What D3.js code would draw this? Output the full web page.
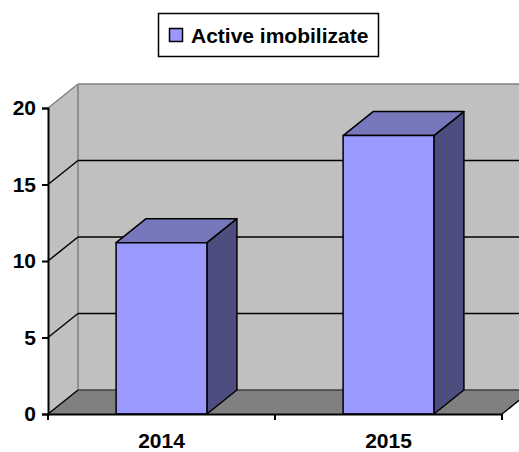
<!DOCTYPE html>
<html>
<head>
<meta charset="utf-8">
<script src="https://cdn.jsdelivr.net/npm/d3@7"></script>
<style>
  body { margin: 0; background: #fff; }
  svg { display: block; }
</style>
</head>
<body>
<div id="chart"></div>
<script>
// data
var years = ["2014", "2015"];
var values = [11.2, 18.2];
var seriesName = "Active imobilizate";
var yTicks = [0, 5, 10, 15, 20];

var W = 519, H = 452;
var plotLeft = 48, plotRight = 502, plotTop = 108, plotBottom = 414;
// 3d depth offset of the walls and the bars
var dx = 30, dy = -24;

var svg = d3.select("#chart")
  .append("svg")
  .attr("width", W)
  .attr("height", H);

var y = d3.scaleLinear()
  .domain([0, 20])
  .range([plotBottom, plotTop]);

var x = d3.scaleBand()
  .domain(years)
  .range([plotLeft, plotRight]);

var font = "'Liberation Sans', Arial, sans-serif";

function pts(arr) { return arr.map(function(p) { return p.join(","); }).join(" "); }

// walls
svg.append("polygon")
  .attr("points", pts([[plotLeft + dx, y(20) + dy], [W + 20, y(20) + dy], [W + 20, y(0) + dy], [plotLeft + dx, y(0) + dy]]))
  .attr("fill", "#c0c0c0");
svg.append("polygon")
  .attr("points", pts([[plotLeft, y(20)], [plotLeft + dx, y(20) + dy], [plotLeft + dx, y(0) + dy], [plotLeft, y(0)]]))
  .attr("fill", "#c0c0c0");
// floor
svg.append("polygon")
  .attr("points", pts([[plotLeft, y(0)], [plotLeft + dx, y(0) + dy], [plotRight + dx, y(0) + dy], [plotRight, y(0)]]))
  .attr("fill", "#808080");
svg.append("polygon")
  .attr("points", pts([[plotRight, y(0)], [plotRight + dx, y(0) + dy], [W + 20, y(0) + dy], [W + 20, y(0)]]))
  .attr("fill", "#fff");

// wall edges
var edge = svg.append("g").attr("stroke", "#808080").attr("stroke-width", 1.5).attr("fill", "none");
edge.append("line").attr("x1", plotLeft).attr("y1", y(20)).attr("x2", plotLeft + dx).attr("y2", y(20) + dy);
edge.append("line").attr("x1", plotLeft + dx).attr("y1", y(20) + dy).attr("x2", W + 20).attr("y2", y(20) + dy);
edge.append("line").attr("x1", plotLeft + dx).attr("y1", y(20) + dy).attr("x2", plotLeft + dx).attr("y2", y(0) + dy);
edge.append("line").attr("x1", plotLeft + dx).attr("y1", y(0) + dy).attr("x2", plotRight + dx).attr("y2", y(0) + dy)
  .attr("stroke", "#404040");

// gridlines on side and back wall
var grid = svg.append("g").attr("stroke", "#000").attr("stroke-width", 1.5);
yTicks.filter(function(t) { return t > 0 && t < 20; }).forEach(function(t) {
  grid.append("line").attr("x1", plotLeft).attr("y1", y(t)).attr("x2", plotLeft + dx).attr("y2", y(t) + dy);
  grid.append("line").attr("x1", plotLeft + dx).attr("y1", y(t) + dy).attr("x2", W + 20).attr("y2", y(t) + dy);
});
grid.append("line").attr("x1", plotLeft).attr("y1", y(0)).attr("x2", plotLeft + dx).attr("y2", y(0) + dy);
grid.append("line").attr("x1", plotRight).attr("y1", y(0)).attr("x2", plotRight + dx).attr("y2", y(0) + dy);

// bars
var bw = x.bandwidth() * 0.4;
var bars = svg.append("g")
  .selectAll("g")
  .data(years.map(function(d, i) { return { year: d, value: values[i] }; }))
  .enter()
  .append("g")
  .attr("stroke", "#000")
  .attr("stroke-width", 1.5)
  .attr("stroke-linejoin", "round");

bars.append("polygon")
  .attr("fill", "#4d4d80")
  .attr("points", function(d) {
    var x1 = x(d.year) + (x.bandwidth() + bw) / 2, yv = y(d.value);
    return pts([[x1, yv], [x1 + dx, yv + dy], [x1 + dx, y(0) + dy], [x1, y(0)]]);
  });
bars.append("polygon")
  .attr("fill", "#7777bb")
  .attr("points", function(d) {
    var x0 = x(d.year) + (x.bandwidth() - bw) / 2, x1 = x0 + bw, yv = y(d.value);
    return pts([[x0, yv], [x0 + dx, yv + dy], [x1 + dx, yv + dy], [x1, yv]]);
  });
bars.append("rect")
  .attr("fill", "#9999ff")
  .attr("x", function(d) { return x(d.year) + (x.bandwidth() - bw) / 2; })
  .attr("y", function(d) { return y(d.value); })
  .attr("width", bw)
  .attr("height", function(d) { return y(0) - y(d.value); });

// y axis
var yAxis = svg.append("g")
  .attr("transform", "translate(" + plotLeft + ",0)")
  .call(d3.axisLeft(y).tickValues(yTicks).tickSize(6).tickPadding(6));
yAxis.select(".domain").attr("stroke", "#000").attr("stroke-width", 2);
yAxis.selectAll(".tick line").attr("stroke", "#000").attr("stroke-width", 2);
yAxis.selectAll("text")
  .attr("fill", "#000")
  .style("font-family", font)
  .style("font-weight", "bold")
  .style("font-size", "21px");

// x axis
var xAxis = svg.append("g")
  .attr("transform", "translate(0," + plotBottom + ")")
  .call(d3.axisBottom(x).tickSize(0).tickPadding(19));
xAxis.select(".domain").attr("stroke", "#000").attr("stroke-width", 2);
xAxis.selectAll("text")
  .attr("fill", "#000")
  .style("font-family", font)
  .style("font-weight", "bold")
  .style("font-size", "21px");
// tick marks between the categories
xAxis.selectAll(".sep")
  .data([plotLeft, plotLeft + x.step(), plotRight])
  .enter()
  .append("line")
  .attr("x1", function(d) { return d; })
  .attr("x2", function(d) { return d; })
  .attr("y1", 0)
  .attr("y2", 6)
  .attr("stroke", "#000")
  .attr("stroke-width", 2);

// legend
var legend = svg.append("g");
legend.append("rect")
  .attr("x", 158.5).attr("y", 13.5)
  .attr("width", 220).attr("height", 43)
  .attr("fill", "#fff")
  .attr("stroke", "#000")
  .attr("stroke-width", 1.5);
legend.append("rect")
  .attr("x", 169.5).attr("y", 28.5)
  .attr("width", 13).attr("height", 13)
  .attr("fill", "#9999ff")
  .attr("stroke", "#000")
  .attr("stroke-width", 1.5);
legend.append("text")
  .attr("x", 191)
  .attr("y", 43)
  .style("font-family", font)
  .style("font-weight", "bold")
  .style("font-size", "21px")
  .attr("fill", "#000")
  .text(seriesName);
</script>
</body>
</html>
